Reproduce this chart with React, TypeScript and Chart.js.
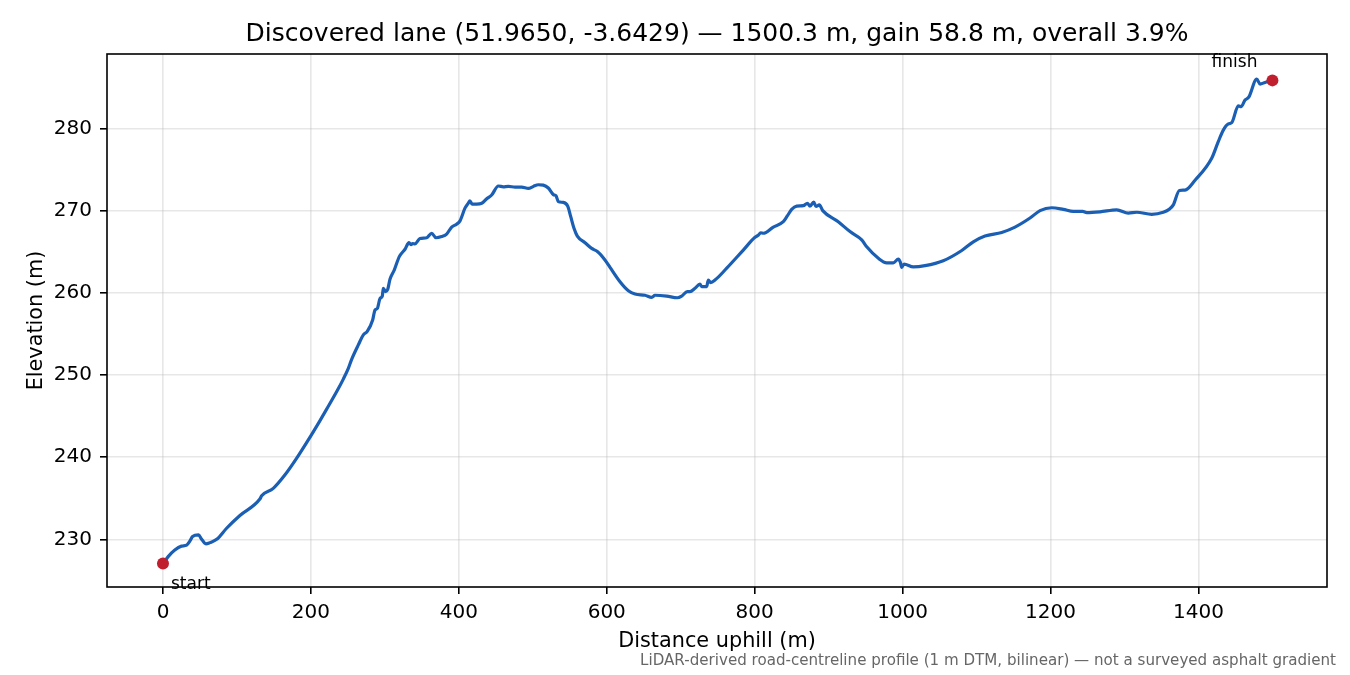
import { useEffect, useRef } from 'react';
import { Chart } from 'chart.js/auto';

const FONT = '"DejaVu Sans", sans-serif';

const distances = [
  0, 7, 16, 25, 32, 36.5, 40, 48, 52, 58, 63.5, 72.6, 86, 104, 131, 133.4, 149.1, 165, 180.8, 196.5, 211.3, 221.3, 234.9, 243.8, 250.6, 255.1, 264.1, 270.9, 276.2,
  283.5, 286.6, 289.8, 293.4, 296.5, 297.9, 301, 303.8, 306.9, 312.8, 319.5, 327.2, 332.6, 335.3, 337.6, 340.7, 347.5, 356.5, 363.3, 369, 376.8, 383.5, 390.3, 397, 401.6, 408.3, 412.8, 415, 417.8, 424, 431, 437.7, 444.4, 453.4, 460, 466.9, 476, 485, 494, 500.7, 507.5, 514.2, 521, 527.8, 531.4, 534.5, 541.3, 547.2, 551.2, 555.7, 560.2, 570.6, 579.6, 587.7, 597.6,
  604.4, 617.9, 629.2, 638.2, 651.7, 660.8, 665.2, 681, 695.4, 701.3, 708.9, 712.5, 719.3, 726, 728.3, 735.1, 737.3, 740.5, 746.3, 762.2, 784.6, 800.4, 804.9, 808.1, 811.7, 825.2, 838.7, 844.1, 850, 856.8, 865.8, 871.2, 874.8, 879.8, 882.9, 887.4, 892, 913, 928.9, 944.7, 951.5, 967.2, 978.5, 987.4, 994.2, 997, 998.8, 1001.9, 1014.5, 1030.3, 1055,
  1080, 1095.6, 1111.4, 1134, 1152, 1172.3, 1185.8, 1201.6, 1217.3, 1230.8, 1243.5, 1248.9, 1266.9, 1289.5, 1305.2, 1316.5, 1336.8, 1352.5, 1361, 1366, 1374.2, 1381.8, 1395.4, 1417.9, 1426.8, 1433.6, 1440.4, 1445, 1453.9, 1457.6, 1463, 1468, 1478.8, 1483.3, 1490, 1500,
];
const elevations = [
  227.05, 227.9, 228.7, 229.17, 229.3, 229.8, 230.35, 230.55, 230.05, 229.45, 229.6, 230, 231.35, 232.9, 234.9, 235.3, 236.2, 237.85, 239.88, 242.1, 244.3, 245.84, 247.98, 249.5, 250.8, 251.9, 253.66, 254.88, 255.3,
  256.7, 257.9, 258.1, 259.3, 259.6, 260.55, 260.15, 260.4, 261.65, 262.8, 264.4, 265.3, 266.1, 265.85, 266, 265.95, 266.6, 266.7, 267.25, 266.7, 266.85, 267.15, 268, 268.35, 268.75, 270.3, 270.9, 271.2, 270.8, 270.8, 270.9, 271.45, 271.9, 273, 272.9, 272.95, 272.85, 272.85, 272.7, 272.95, 273.15, 273.1, 272.75, 271.95, 271.8, 271.1, 271, 270.55, 269.3, 267.85, 266.9, 266.1, 265.4, 265, 264,
  263.1, 261.35, 260.25, 259.85, 259.7, 259.45, 259.7, 259.6, 259.4, 259.6, 260.15, 260.15, 260.55, 261.05, 260.75, 260.75, 261.55, 261.25, 261.55, 263, 265.2, 266.75, 267, 267.3, 267.25, 268, 268.65, 269.35, 270.15, 270.55, 270.6, 270.9, 270.55, 271.05, 270.5, 270.7, 270, 268.65, 267.45, 266.45, 265.6, 264.2, 263.65, 263.65, 264.1, 263.7, 263.1, 263.5, 263.15, 263.3, 263.9,
  265.15, 266.2, 266.9, 267.35, 268, 269.1, 270, 270.35, 270.15, 269.9, 269.9, 269.75, 269.85, 270.1, 269.7, 269.8, 269.55, 269.8, 270.2, 270.7, 272.45, 272.5, 273.7, 276.37, 278.4, 279.8, 280.55, 280.7, 282.75, 282.65, 283.45, 283.8, 286, 285.4, 285.6, 285.85,
];

const endDistances = [0, 1500];
const endElevations = [227.05, 285.85];
const endLabels = ['start', 'finish'];

const xTicks = [0, 200, 400, 600, 800, 1000, 1200, 1400];
const yTicks = [230, 240, 250, 260, 270, 280];

const TITLE = 'Discovered lane (51.9650, -3.6429) — 1500.3 m, gain 58.8 m, overall 3.9%';
const NOTE = 'LiDAR-derived road-centreline profile (1 m DTM, bilinear) — not a surveyed asphalt gradient';

// frame, end labels and the small note under the axis
const extras = {
  id: 'extras',
  afterDraw(chart: any) {
    const { ctx, chartArea: a, scales } = chart;
    ctx.save();
    ctx.strokeStyle = '#000';
    ctx.lineWidth = 1.6;
    ctx.strokeRect(a.left, a.top, a.right - a.left, a.bottom - a.top);

    ctx.fillStyle = '#000';
    ctx.font = `17px ${FONT}`;
    ctx.textBaseline = 'alphabetic';
    ctx.textAlign = 'left';
    ctx.fillText(endLabels[0], scales.x.getPixelForValue(endDistances[0]) + 8, scales.y.getPixelForValue(endElevations[0]) + 25);
    ctx.textAlign = 'right';
    ctx.fillText(endLabels[1], scales.x.getPixelForValue(endDistances[1]) - 15, scales.y.getPixelForValue(endElevations[1]) - 13);

    ctx.fillStyle = '#666';
    ctx.font = `15.1px ${FONT}`;
    ctx.fillText(NOTE, 1336, 665);
    ctx.restore();
  },
};

export default function App() {
  const ref = useRef<HTMLCanvasElement>(null);

  useEffect(() => {
    if (!ref.current) return;
    const grid = { color: 'rgba(176,176,176,.3)', lineWidth: 1.6, tickLength: 7, tickColor: '#000', tickWidth: 1.6 };
    const chart = new Chart(ref.current, {
      type: 'line',
      data: {
        datasets: [
          {
            data: endDistances.map((x, i) => ({ x, y: endElevations[i] })),
            showLine: false,
            pointRadius: 6,
            pointBackgroundColor: '#c01f2e',
            pointBorderWidth: 0,
            order: 1,
          },
          {
            data: distances.map((x, i) => ({ x, y: elevations[i] })),
            borderColor: '#1a5fb4',
            borderWidth: 3.2,
            borderJoinStyle: 'round',
            pointRadius: 0,
            cubicInterpolationMode: 'monotone',
            order: 2,
          },
        ],
      },
      options: {
        animation: false,
        responsive: false,
        devicePixelRatio: 1,
        layout: { padding: { left: 24, right: 23, bottom: 21, top: 0 } },
        plugins: {
          legend: { display: false },
          tooltip: { enabled: false },
          title: {
            display: true,
            fullSize: false,
            text: TITLE,
            color: '#000',
            font: { family: FONT, size: 25, weight: 'normal', lineHeight: 1 },
            padding: { top: 22, bottom: 7 },
          },
        },
        scales: {
          x: {
            type: 'linear',
            min: -75.7,
            max: 1573.8,
            afterBuildTicks: (s: any) => { s.ticks = xTicks.map(value => ({ value })); },
            afterFit: (s: any) => { s.height = 67; },
            grid,
            border: { display: false },
            ticks: { color: '#000', font: { family: FONT, size: 20 }, maxRotation: 0, padding: 7, callback: (v: any) => String(v) },
            title: { display: true, text: 'Distance uphill (m)', color: '#000', font: { family: FONT, size: 20.8 }, padding: 0 },
          },
          y: {
            type: 'linear',
            min: 224.2,
            max: 289.06,
            afterBuildTicks: (s: any) => { s.ticks = yTicks.map(value => ({ value })); },
            afterFit: (s: any) => { s.width = 83; },
            grid,
            border: { display: false },
            ticks: { color: '#000', font: { family: FONT, size: 20 }, padding: 8, callback: (v: any) => String(v) },
            title: { display: true, text: 'Elevation (m)', color: '#000', font: { family: FONT, size: 20.8 }, padding: 0 },
          },
        },
      },
      plugins: [extras],
    } as any);
    return () => chart.destroy();
  }, []);

  return (
    <div style={{ position: 'fixed', left: 0, top: 0, width: 1350, height: 675, background: '#fff' }}>
      <canvas ref={ref} width={1350} height={675} />
    </div>
  );
}
